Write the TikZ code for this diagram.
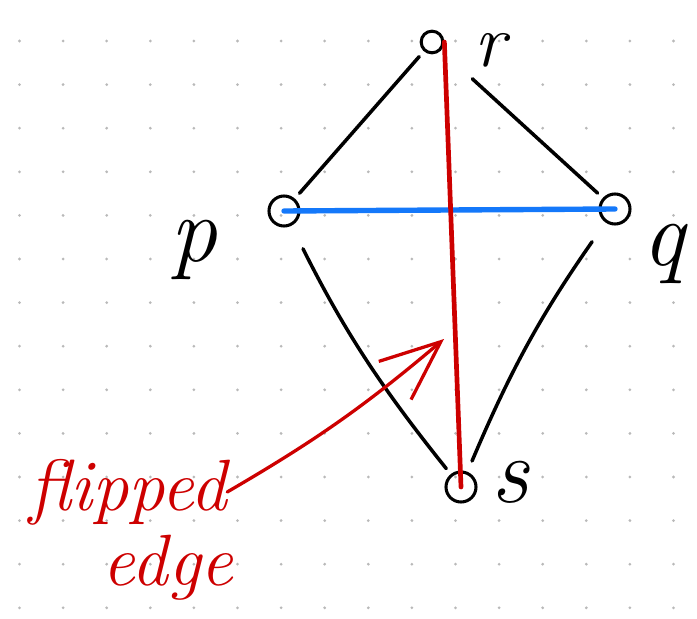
\documentclass[tikz,border=0pt]{standalone}
\usepackage{fontspec}
\usetikzlibrary{arrows.meta, positioning, calc}
\definecolor{sketchred}{RGB}{205,0,0}
\definecolor{sketchblue}{RGB}{20,120,250}
\definecolor{dotgray}{RGB}{185,185,185}

\begin{document}
\begin{tikzpicture}[
    x=0.03cm, y=-0.03cm,
    vert/.style={circle, draw, line width=2.6pt, inner sep=0pt, minimum size=0.9cm},
    vlab/.style={font=\fontsize{80}{80}\selectfont\itshape, inner sep=0pt},
    blackedge/.style={line width=3pt, line cap=round, shorten >=6pt, shorten <=6pt},
    cutedge/.style={line width=4.6pt, line cap=round, draw=sketchblue},
    flipedge/.style={line width=4pt, line cap=round, draw=sketchred},
    note/.style={font=\fontsize{62}{62}\selectfont\itshape, text=sketchred, inner sep=0pt},
    arr/.style={-{Straight Barb[length=1.8cm, width=1.5cm, line width=2.8pt]},
      line width=2.8pt, line cap=round, draw=sketchred}
  ]
  \useasboundingbox (0,0) rectangle (697,619);
  % dot grid
  \foreach \i in {0,...,15}
    \foreach \j in {0,...,13}
      \fill[dotgray] (19.5+43.6*\i, 41+43.6*\j) circle (1.3pt);

  % vertices
  \node[vert, minimum size=0.65cm] (r) at (432,42) {};
  \node[vert] (p) at (284,211) {};
  \node[vert] (q) at (615,209) {};
  \node[vert] (s) at (461,487) {};

  \node[vlab, font=\fontsize{64}{64}\selectfont\itshape] (rlab) at (490,50) {r};
  \node[vlab] (plab) at (194,250) {p};
  \node[vlab] (qlab) at (664,254) {q};
  \node[vlab] (slab) at (510,482) {s};

  % edges
  \draw[blackedge] (p) -- (r);
  \draw[blackedge, shorten <=36pt] (r) -- (q);
  \draw[blackedge, shorten <=22pt] (p) to[bend right=6] (s);
  \draw[blackedge, shorten <=20pt, shorten >=10pt] (q) to[bend right=6] (s);
  \draw[cutedge] (p.center) -- (q.center);
  \draw[flipedge] (r.east) -- (s.center);

  % note
  \node[note] (flipword) at (128,492) {flipped};
  \node[note] (edgeword) at (168,568) {edge};
  \coordinate (tip) at (444,339);
  \draw[arr] (flipword.east) to[bend right=5] (tip);
\end{tikzpicture}
\end{document}
